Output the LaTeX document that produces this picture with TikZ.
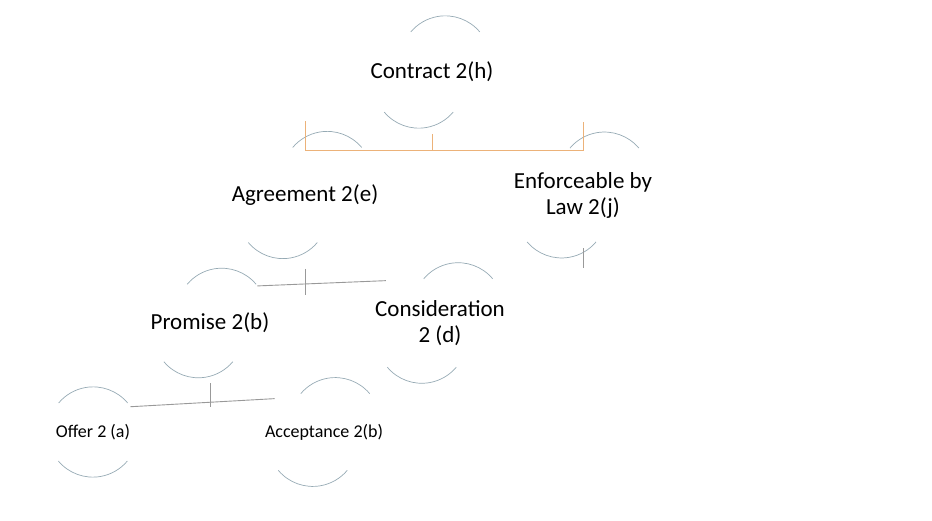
\documentclass[tikz,border=0pt]{standalone}
\usepackage{fontspec}
\setmainfont{Carlito}
\usetikzlibrary{positioning}

\newcommand{\halves}[1]{%
  \draw[arc line] (#1.40) arc (40:140:45pt);
  \draw[arc line] (#1.220) arc (220:320:45pt);
}

\begin{document}
\begin{tikzpicture}[x=1pt,y=1pt,
  main node/.style={circle,minimum size=90pt,inner sep=0pt,align=center,font=\fontsize{23}{26}\selectfont},
  small node/.style={main node,font=\fontsize{18}{21}\selectfont},
  arc line/.style={draw=gray!50!cyan!60!black!60,line width=0.7pt},
  top link/.style={draw=orange!50!brown!60,line width=0.9pt},
  low link/.style={draw=gray!80,line width=0.9pt}]
  \useasboundingbox (0,0) rectangle (932,-521);

  \node[main node] (contract) at (432,-72) {Contract 2(h)};
  \node[main node] (agree) at (305,-195) {Agreement 2(e)};
  \node[main node] (law) at (583,-195) {Enforceable by\\Law 2(j)};
  \node[main node] (promise) at (210,-323) {Promise 2(b)};
  \node[main node] (consid) at (440,-323) {Consideration\\2 (d)};
  \node[small node] (offer) at (93,-432) {Offer 2 (a)};
  \node[small node] (accept) at (324,-432) {Acceptance 2(b)};

  \foreach \n in {contract,agree,law,promise,consid,offer,accept}
    {\halves{\n}}

  \coordinate (lawtail) at (583,-248);
  \draw[top link] (contract.south) -- ++(0,-16) -| (agree.north);
  \draw[top link] (contract.south) -- ++(0,-16) -| (law.north);
  \draw[low link] (law.south) -- (lawtail);
  \draw[low link] (agree.south) -- (305,-295);
  \draw[low link] (promise.38) -- (consid.142);
  \draw[low link] (promise.south) -- (210,-407);
  \draw[low link] (offer.34) -- (accept.146);
\end{tikzpicture}
\end{document}
